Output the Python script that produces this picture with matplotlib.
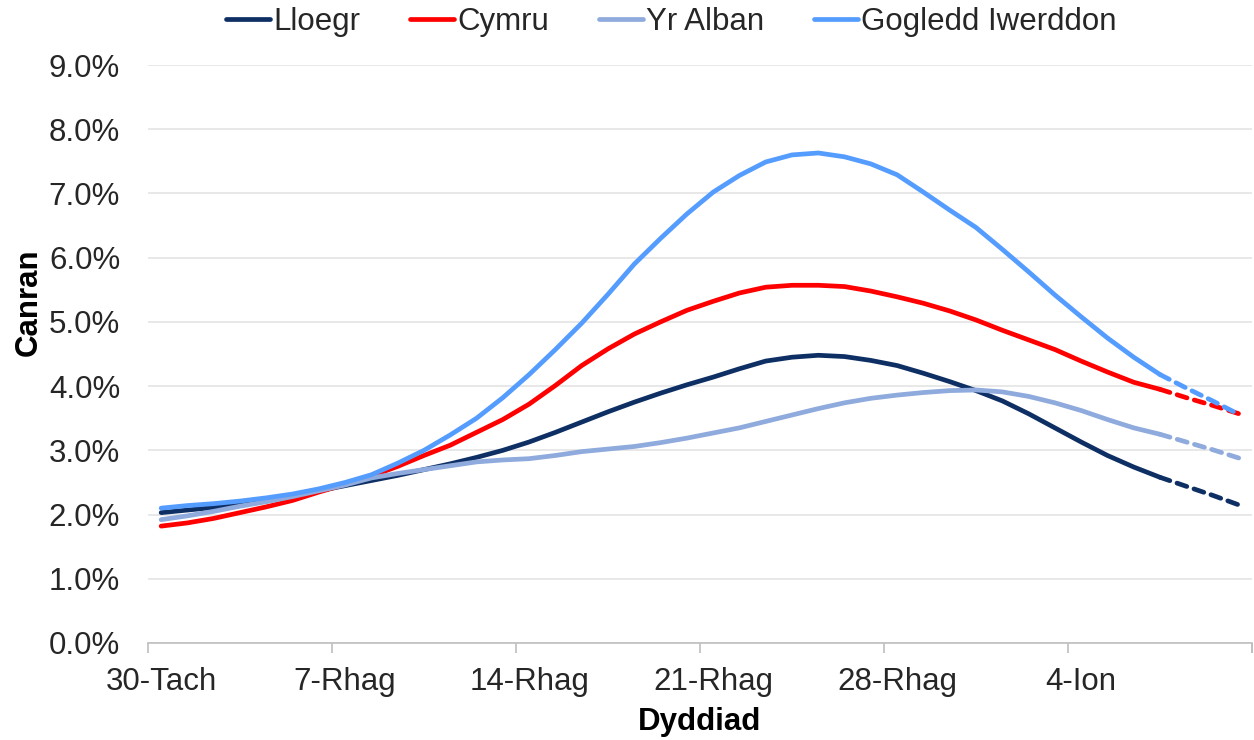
import matplotlib
matplotlib.use("Agg")
import matplotlib.pyplot as plt
from matplotlib.ticker import FuncFormatter, FixedLocator
import numpy as np

plt.rcParams['font.family'] = ['Liberation Sans', 'DejaVu Sans']

# daily values, 30-Tach .. 10-Ion (42 days), percent
lloegr = [2.03, 2.07, 2.11, 2.16, 2.22, 2.29, 2.37, 2.45, 2.53, 2.61,
          2.70, 2.79, 2.89, 3.00, 3.13, 3.28, 3.44, 3.60, 3.75, 3.89,
          4.02, 4.14, 4.27, 4.39, 4.45, 4.48, 4.46, 4.40, 4.32, 4.20,
          4.07, 3.93, 3.77, 3.57, 3.35, 3.13, 2.92, 2.74, 2.58, 2.44,
          2.30, 2.15]
cymru = [1.82, 1.87, 1.94, 2.03, 2.12, 2.22, 2.35, 2.47, 2.60, 2.75,
         2.92, 3.08, 3.28, 3.48, 3.72, 4.01, 4.32, 4.58, 4.81, 5.00,
         5.18, 5.32, 5.45, 5.54, 5.57, 5.57, 5.55, 5.48, 5.39, 5.29,
         5.17, 5.03, 4.87, 4.72, 4.57, 4.39, 4.22, 4.06, 3.95, 3.82,
         3.70, 3.57]
yr_alban = [1.92, 1.98, 2.05, 2.13, 2.20, 2.28, 2.37, 2.46, 2.57, 2.64,
            2.70, 2.76, 2.82, 2.85, 2.87, 2.92, 2.98, 3.02, 3.06, 3.12,
            3.19, 3.27, 3.35, 3.45, 3.55, 3.65, 3.74, 3.81, 3.86, 3.90,
            3.93, 3.94, 3.91, 3.84, 3.74, 3.62, 3.48, 3.35, 3.25, 3.13,
            3.01, 2.88]
gogledd = [2.10, 2.14, 2.17, 2.21, 2.26, 2.32, 2.40, 2.50, 2.62, 2.80,
           3.00, 3.24, 3.50, 3.82, 4.18, 4.57, 4.98, 5.43, 5.90, 6.30,
           6.68, 7.02, 7.28, 7.49, 7.60, 7.63, 7.57, 7.46, 7.29, 7.02,
           6.74, 6.47, 6.13, 5.78, 5.42, 5.08, 4.75, 4.45, 4.18, 3.97,
           3.77, 3.56]

names = ["Lloegr", "Cymru", "Yr Alban", "Gogledd Iwerddon"]
colours = ["#0e2f64", "#ff0000", "#8faadc", "#559cff"]
tick_labels = ["30-Tach", "7-Rhag", "14-Rhag", "21-Rhag", "28-Rhag", "4-Ion"]
last_solid = 38  # final days drawn dashed

fig = plt.figure(figsize=(12.54, 7.40), dpi=100)
ax = fig.add_axes([148/1254, 97/740, 1104/1254, 578/740])

days = np.arange(len(lloegr))
for name, vals, col in zip(names, [lloegr, cymru, yr_alban, gogledd], colours):
    v = np.array(vals)
    ax.plot(days[:last_solid+1], v[:last_solid+1], color=col, lw=3.4,
            solid_capstyle='round', solid_joinstyle='round', label=name)
    ax.plot(days[last_solid:], v[last_solid:], color=col, lw=3.4,
            ls=(0, (2.2, 1.6)), dash_capstyle='round')

ax.set_xlim(-0.5, len(days) - 0.5)
ax.set_ylim(0, 9)
ax.set_yticks(np.arange(0, 9.5, 1))
ax.yaxis.set_major_formatter(FuncFormatter(lambda v, p: f"{v:.1f}%"))
ax.grid(axis='y', color='#e6e6e6', lw=1.3)
ax.set_axisbelow(True)

# tick marks at week boundaries, labels under each week's first day
ax.xaxis.set_major_locator(FixedLocator(np.arange(-0.5, len(days), 7).tolist() + [len(days) - 0.5]))
ax.xaxis.set_minor_locator(FixedLocator(np.arange(0, 36, 7)))
ax.set_xticklabels([], minor=False)
ax.set_xticklabels(tick_labels, minor=True)
fs = 22.5
ax.tick_params(axis='x', which='major', length=7, color='#bfbfbf', width=1.2)
ax.tick_params(axis='x', which='minor', length=0, pad=17, labelsize=fs, labelcolor='#262626')
ax.tick_params(axis='y', length=0, pad=20, labelsize=fs, labelcolor='#262626')

for s in ['left', 'right', 'top']:
    ax.spines[s].set_visible(False)
ax.spines['bottom'].set_color('#bfbfbf')
ax.spines['bottom'].set_linewidth(1.2)

ax.set_ylabel("Canran", fontsize=fs, fontweight='bold')
ax.yaxis.set_label_coords(-0.094, 0.59)
ax.set_xlabel("Dyddiad", fontsize=fs, fontweight='bold')
ax.xaxis.set_label_coords(0.5, -0.11)

ax.legend(loc='upper center', bbox_to_anchor=(0.474, 1.122), ncol=4, frameon=False,
          fontsize=fs, handlelength=1.4, handletextpad=0.1, columnspacing=1.6,
          labelcolor='#262626', borderaxespad=0)

fig.savefig("out.png", dpi=100)
